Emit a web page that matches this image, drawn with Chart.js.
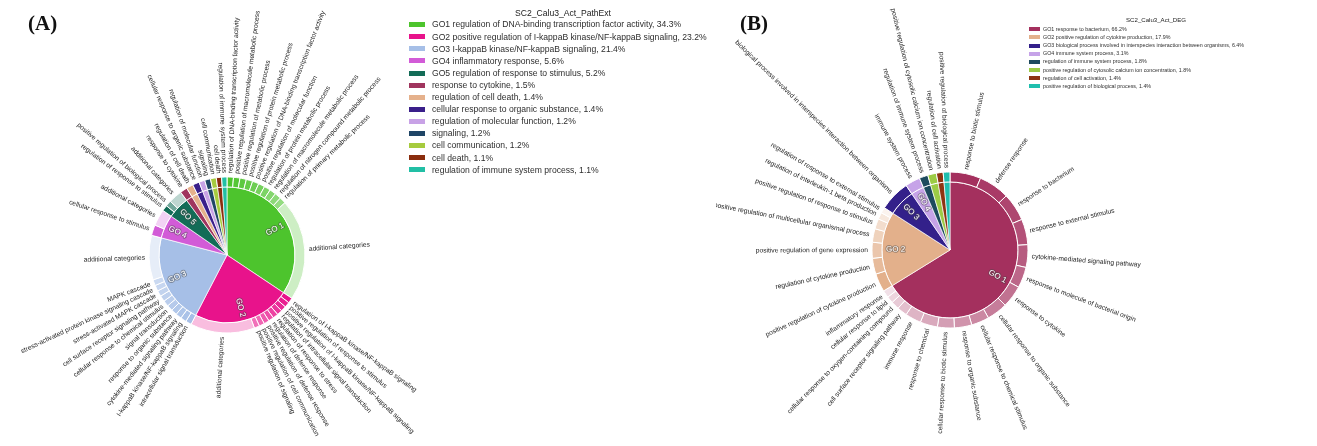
<!DOCTYPE html>
<html>
<head>
<meta charset="utf-8">
<script src="https://cdn.jsdelivr.net/npm/chart.js@4.4.1/dist/chart.umd.min.js"></script>
<style>
  html, body { margin: 0; padding: 0; background: #fff; }
  #page { position: relative; width: 1317px; height: 446px; overflow: hidden;
          font-family: "Liberation Sans", Arial, sans-serif; }
  canvas { position: absolute; top: 0; }
  #cvA { left: 0; }
  #cvB { left: 716px; }
  .panel { position: absolute; font-family: "Liberation Serif", "Times New Roman", serif;
           font-weight: bold; font-size: 21px; line-height: 22px; color: #111; }
  .lg { position: absolute; white-space: nowrap; color: #2e2e2e; }
  .sw { position: absolute; }
</style>
</head>
<body>
<div id="page">
  <canvas id="cvA" width="470" height="446"></canvas>
  <canvas id="cvB" width="601" height="446"></canvas>
  <div class="panel" style="left:28px; top:12px;">(A)</div>
  <div class="panel" style="left:740px; top:12px;">(B)</div>
  <div id="legendA"></div>
  <div id="legendB"></div>
</div>
<script>
// ---------- Panel A: SC2_Calu3_Act_PathExt ----------
const aTitle = 'SC2_Calu3_Act_PathExt';
const aCategories = [
  'regulation of DNA-binding transcription factor activity',
  'positive regulation of I-kappaB kinase/NF-kappaB signaling',
  'I-kappaB kinase/NF-kappaB signaling',
  'inflammatory response',
  'regulation of response to stimulus',
  'response to cytokine',
  'regulation of cell death',
  'cellular response to organic substance',
  'regulation of molecular function',
  'signaling',
  'cell communication',
  'cell death',
  'regulation of immune system process'
];
const aShares = [34.3, 23.2, 21.4, 5.6, 5.2, 1.5, 1.4, 1.4, 1.2, 1.2, 1.2, 1.1, 1.1];
const aColors = ['#4dc42d', '#e8138b', '#a6bfe7', '#d25bd7', '#136c57', '#a0355e', '#e5b18c',
                 '#3a1f8a', '#c8a2e6', '#1f4566', '#a6cb3e', '#8a2d0e', '#22bfa5'];
const aTagged = 5;

const aTerms = [
  'regulation of DNA-binding transcription factor activity',
  'positive regulation of macromolecule metabolic process',
  'positive regulation of metabolic process',
  'positive regulation of protein metabolic process',
  'positive regulation of DNA-binding transcription factor activity',
  'positive regulation of molecular function',
  'regulation of protein metabolic process',
  'regulation of macromolecule metabolic process',
  'regulation of nitrogen compound metabolic process',
  'regulation of primary metabolic process',
  'additional categories',
  'regulation of I-kappaB kinase/NF-kappaB signaling',
  'positive regulation of response to stimulus',
  'positive regulation of I-kappaB kinase/NF-kappaB signaling',
  'regulation of intracellular signal transduction',
  'regulation of response to stress',
  'regulation of defense response',
  'positive regulation of defense response',
  'positive regulation of cell communication',
  'positive regulation of signaling',
  'additional categories',
  'intracellular signal transduction',
  'I-kappaB kinase/NF-kappaB signaling',
  'cytokine-mediated signaling pathway',
  'response to organic substance',
  'signal transduction',
  'cellular response to chemical stimulus',
  'cell surface receptor signaling pathway',
  'stress-activated MAPK cascade',
  'stress-activated protein kinase signaling cascade',
  'MAPK cascade',
  'additional categories',
  'cellular response to stimulus',
  'additional categories',
  'regulation of response to stimulus',
  'positive regulation of biological process',
  'additional categories',
  'response to cytokine',
  'regulation of cell death',
  'cellular response to organic substance',
  'regulation of molecular function',
  'signaling',
  'cell communication',
  'cell death',
  'regulation of immune system process'
];
const aTermShares = [
  1.33, 1.33, 1.33, 1.33, 1.33, 1.33, 1.33, 1.33, 1.33, 1.33, 21.0,
  1.1, 1.1, 1.1, 1.1, 1.1, 1.1, 1.1, 1.1, 1.1, 13.3,
  1.22, 1.22, 1.22, 1.22, 1.22, 1.22, 1.22, 1.22, 1.22, 1.22, 9.2,
  2.2, 3.4,
  1.2, 1.2, 2.8,
  1.5, 1.4, 1.4, 1.2, 1.2, 1.2, 1.1, 1.1
];
const aTermGroup = [
  0, 0, 0, 0, 0, 0, 0, 0, 0, 0, 0,
  1, 1, 1, 1, 1, 1, 1, 1, 1, 1,
  2, 2, 2, 2, 2, 2, 2, 2, 2, 2, 2,
  3, 3,
  4, 4, 4,
  5, 6, 7, 8, 9, 10, 11, 12
];

// ---------- Panel B: SC2_Calu3_Act_DEG ----------
const bTitle = 'SC2_Calu3_Act_DEG';
const bCategories = [
  'response to bacterium',
  'positive regulation of cytokine production',
  'biological process involved in interspecies interaction between organisms',
  'immune system process',
  'regulation of immune system process',
  'positive regulation of cytosolic calcium ion concentration',
  'regulation of cell activation',
  'positive regulation of biological process'
];
const bShares = [66.2, 17.9, 6.4, 3.1, 1.8, 1.8, 1.4, 1.4];
const bColors = ['#a4305e', '#e3b08b', '#33208a', '#c6a3e8', '#1d4a5e', '#9ccb45', '#8e3412', '#20bfae'];
const bTagged = 4;

const bTerms = [
  'response to biotic stimulus',
  'defense response',
  'response to bacterium',
  'response to external stimulus',
  'cytokine-mediated signaling pathway',
  'response to molecule of bacterial origin',
  'response to cytokine',
  'cellular response to organic substance',
  'cellular response to chemical stimulus',
  'response to organic substance',
  'cellular response to biotic stimulus',
  'response to chemical',
  'immune response',
  'cell surface receptor signaling pathway',
  'cellular response to oxygen-containing compound',
  'cellular response to lipid',
  'inflammatory response',
  'positive regulation of cytokine production',
  'regulation of cytokine production',
  'positive regulation of gene expression',
  'positive regulation of multicellular organismal process',
  'positive regulation of response to stimulus',
  'regulation of interleukin-1 beta production',
  'regulation of response to external stimulus',
  'biological process involved in interspecies interaction between organisms',
  'immune system process',
  'regulation of immune system process',
  'positive regulation of cytosolic calcium ion concentration',
  'regulation of cell activation',
  'positive regulation of biological process'
];
const bTermShares = [
  6.4, 6.4, 5.8, 5.3, 4.7, 4.3, 4.6, 4.3, 3.7, 3.6, 3.5, 3.6, 3.3, 2.1, 1.7, 1.4, 1.5,
  3.8, 3.3, 3.3, 2.8, 2.1, 1.4, 1.2,
  6.4, 3.1, 1.8, 1.8, 1.4, 1.4
];
const bTermGroup = [
  0, 0, 0, 0, 0, 0, 0, 0, 0, 0, 0, 0, 0, 0, 0, 0, 0,
  1, 1, 1, 1, 1, 1, 1,
  2, 3, 4, 5, 6, 7
];

// ---------- helpers ----------
const LABEL_FONT = '6.7px "Liberation Sans", Arial, sans-serif';
const TAG_FONT = '8px "Liberation Sans", Arial, sans-serif';
const EXTRA = 'additional categories';

function mix(hex, f) {
  const n = parseInt(hex.slice(1), 16);
  const c = [(n >> 16) & 255, (n >> 8) & 255, n & 255].map(v => Math.round(v + (255 - v) * f));
  return `rgb(${c[0]},${c[1]},${c[2]})`;
}

// Outer ring shades: each sub-term is a lighter tint of its parent slice.
function ringColors(terms, groups, colors) {
  return terms.map((t, i) => {
    const g = groups[i];
    const members = [];
    groups.forEach((gg, k) => { if (gg === g) members.push(k); });
    const named = members.filter(k => terms[k] !== EXTRA);
    const hasExtra = named.length < members.length;
    let f;
    if (t === EXTRA) f = 0.72;
    else {
      const j = named.indexOf(i);
      const span = hasExtra ? 0.4 : 0.85;
      f = named.length > 1 ? span * j / (named.length - 1) : 0;
    }
    return mix(colors[g], f);
  });
}

// Radial term labels around the ring and "GO n" tags inside the pie.
function radialLabelPlugin(terms, tagCount) {
  return {
    id: 'radialLabels',
    afterDatasetsDraw(chart) {
      const ctx = chart.ctx;
      const ring = chart.getDatasetMeta(0).data;
      const pie = chart.getDatasetMeta(1).data;
      ctx.save();
      ctx.font = LABEL_FONT;
      ctx.fillStyle = '#1c1c1c';
      ctx.textBaseline = 'middle';
      ring.forEach((arc, i) => {
        const p = arc.getProps(['x', 'y', 'startAngle', 'endAngle', 'outerRadius'], true);
        const mid = (p.startAngle + p.endAngle) / 2;
        const r = p.outerRadius + 4;
        const right = Math.cos(mid) >= 0;
        ctx.save();
        ctx.translate(p.x + Math.cos(mid) * r, p.y + Math.sin(mid) * r);
        ctx.rotate(right ? mid : mid + Math.PI);
        ctx.textAlign = right ? 'left' : 'right';
        ctx.fillText(terms[i], 0, 0);
        ctx.restore();
      });
      ctx.font = TAG_FONT;
      ctx.textAlign = 'center';
      pie.slice(0, tagCount).forEach((arc, i) => {
        const p = arc.getProps(['x', 'y', 'startAngle', 'endAngle', 'outerRadius'], true);
        const mid = (p.startAngle + p.endAngle) / 2;
        const r = p.outerRadius * 0.8;
        const right = Math.cos(mid) >= 0;
        ctx.save();
        ctx.translate(p.x + Math.cos(mid) * r, p.y + Math.sin(mid) * r);
        ctx.rotate(right ? mid : mid + Math.PI);
        ctx.lineWidth = 2;
        ctx.lineJoin = 'round';
        ctx.strokeStyle = 'rgba(70,70,70,0.45)';
        ctx.strokeText('GO ' + (i + 1), 0, 0);
        ctx.fillStyle = '#ffffff';
        ctx.fillText('GO ' + (i + 1), 0, 0);
        ctx.restore();
      });
      ctx.restore();
    }
  };
}

function makeChart(id, cfg) {
  return new Chart(document.getElementById(id), {
    type: 'doughnut',
    data: {
      datasets: [
        { data: cfg.termShares, backgroundColor: ringColors(cfg.terms, cfg.groups, cfg.colors),
          borderColor: '#ffffff', borderWidth: 1, weight: 10 },
        { data: cfg.shares, backgroundColor: cfg.colors,
          borderColor: 'rgba(255,255,255,0.85)', borderWidth: 0.8, weight: 68 }
      ]
    },
    options: {
      responsive: false,
      maintainAspectRatio: false,
      animation: false,
      events: [],
      cutout: 0,
      radius: 78,
      layout: { padding: cfg.padding },
      plugins: { legend: { display: false }, tooltip: { enabled: false } }
    },
    plugins: [radialLabelPlugin(cfg.terms, cfg.tagged)]
  });
}

makeChart('cvA', {
  terms: aTerms, termShares: aTermShares, groups: aTermGroup,
  shares: aShares, colors: aColors, tagged: aTagged,
  padding: { left: 100, right: 116, top: 100, bottom: 36 }
});
makeChart('cvB', {
  terms: bTerms, termShares: bTermShares, groups: bTermGroup,
  shares: bShares, colors: bColors, tagged: bTagged,
  padding: { left: 60, right: 193, top: 100, bottom: 46 }
});

// ---------- legends ----------
function buildLegend(hostId, title, cats, shares, colors, tagged, g) {
  const host = document.getElementById(hostId);
  const t = document.createElement('div');
  t.className = 'lg';
  t.textContent = title;
  t.style.cssText = `left:${g.titleX}px; top:${g.titleY - g.titleSize * 0.6}px; font-size:${g.titleSize}px; line-height:${g.titleSize * 1.2}px; transform:translateX(-50%); color:#222;`;
  host.appendChild(t);
  cats.forEach((c, i) => {
    const y = g.rowY + g.rowStep * i;
    const sw = document.createElement('div');
    sw.className = 'sw';
    sw.style.cssText = `left:${g.boxX}px; top:${y - g.boxH / 2}px; width:${g.boxW}px; height:${g.boxH}px; background:${colors[i]};`;
    host.appendChild(sw);
    const row = document.createElement('div');
    row.className = 'lg';
    const tag = i < tagged ? `GO${i + 1} ` : '';
    row.textContent = `${tag}${c}, ${shares[i].toFixed(1)}%`;
    row.style.cssText = `left:${g.textX}px; top:${y - g.size * 0.6}px; font-size:${g.size}px; line-height:${g.size * 1.2}px;`;
    host.appendChild(row);
  });
}

buildLegend('legendA', aTitle, aCategories, aShares, aColors, aTagged,
  { titleX: 563, titleY: 13.3, titleSize: 8.6, rowY: 24.6, rowStep: 12.1,
    boxX: 409, boxW: 16, boxH: 5, textX: 432, size: 8.6 });
buildLegend('legendB', bTitle, bCategories, bShares, bColors, bTagged,
  { titleX: 1156, titleY: 19.5, titleSize: 6.1, rowY: 29.3, rowStep: 8.1,
    boxX: 1029, boxW: 11, boxH: 4, textX: 1043, size: 5.35 });
</script>
</body>
</html>
